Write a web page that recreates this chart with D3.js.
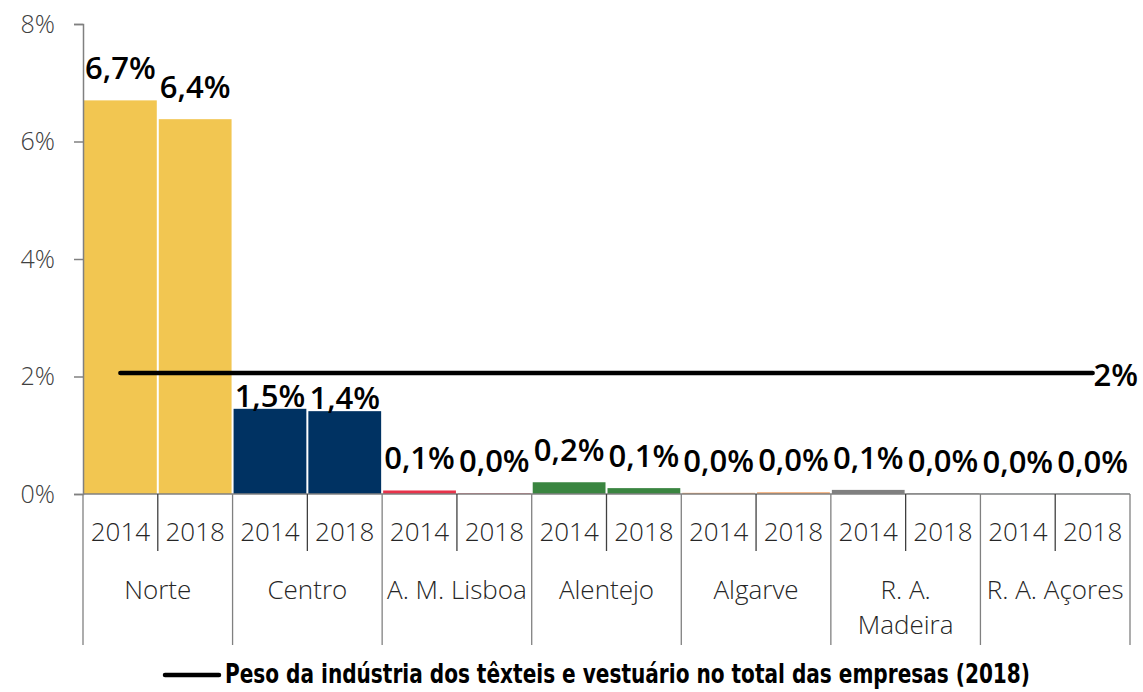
<!DOCTYPE html>
<html>
<head>
<meta charset="utf-8">
<script src="https://cdn.jsdelivr.net/npm/d3@7"></script>
<style>
  body { margin: 0; background: #fff; }
  svg { display: block; font-family: "Open Sans", sans-serif; }
</style>
</head>
<body>
<div id="chart"></div>
<script>
const regions = ['Norte', 'Centro', 'A. M. Lisboa', 'Alentejo', 'Algarve', 'R. A. Madeira', 'R. A. Açores'];
const years = ['2014', '2018'];
const values2014 = [6.7, 1.45, 0.06, 0.2, 0.02, 0.07, 0.005];
const values2018 = [6.38, 1.41, 0.01, 0.1, 0.03, 0.01, 0.005];
const labels2014 = ['6,7%', '1,5%', '0,1%', '0,2%', '0,0%', '0,1%', '0,0%'];
const labels2018 = ['6,4%', '1,4%', '0,0%', '0,1%', '0,0%', '0,0%', '0,0%'];
const colors = ['#F2C651', '#003262', '#E8334A', '#3A8540', '#F2A468', '#808080', '#9DC3E6'];
const refValue = 2.06;
const refLabel = '2%';
const legendText = 'Peso da indústria dos têxteis e vestuário no total das empresas (2018)';
const yTicks = [0, 2, 4, 6, 8];

(() => {
  const width = 1143, height = 692;
  const margin = { left: 83, right: 13, top: 24, bottom: 198 };
  const svg = d3.select('#chart').append('svg')
    .attr('width', width)
    .attr('height', height);

  const bars = [];
  regions.forEach((r, i) => {
    bars.push({ region: r, year: years[0], value: values2014[i], label: labels2014[i], color: colors[i], idx: i });
    bars.push({ region: r, year: years[1], value: values2018[i], label: labels2018[i], color: colors[i], idx: i });
  });

  const x = d3.scaleBand()
    .domain(bars.map((d, i) => i))
    .range([margin.left, width - margin.right])
    .padding(0);
  const xr = d3.scaleBand()
    .domain(regions)
    .range([margin.left, width - margin.right]);
  const y = d3.scaleLinear()
    .domain([0, 8])
    .range([height - margin.bottom, margin.top]);

  // bars
  svg.append('g').selectAll('rect')
    .data(bars)
    .enter()
    .append('rect')
    .attr('x', (d, i) => x(i) + 1)
    .attr('width', x.bandwidth() - 2)
    .attr('y', (d) => y(d.value))
    .attr('height', (d) => y(0) - y(d.value))
    .attr('fill', (d) => d.color);

  // y axis
  const yAxis = svg.append('g')
    .attr('transform', `translate(${margin.left},0)`)
    .call(d3.axisLeft(y).tickValues(yTicks).tickSize(9).tickFormat((d) => d + '%'));
  yAxis.select('.domain').attr('stroke', '#808080').attr('stroke-width', 1.5);
  yAxis.selectAll('.tick line').attr('stroke', '#808080').attr('stroke-width', 1.5);
  yAxis.selectAll('.tick text')
    .attr('x', -28)
    .attr('font-size', 25)
    .attr('font-weight', 300)
    .attr('fill', '#404040')
    .attr('font-family', '"Open Sans", sans-serif');

  // x axis line
  const y0 = y(0);
  svg.append('line')
    .attr('x1', margin.left).attr('x2', width - margin.right)
    .attr('y1', y0).attr('y2', y0)
    .attr('stroke', '#808080').attr('stroke-width', 1.5);

  // year separators
  const yearSep = d3.range(bars.length + 1).map((i) => i < bars.length ? x(i) : x(bars.length - 1) + x.bandwidth());
  svg.append('g').selectAll('line')
    .data(yearSep)
    .enter()
    .append('line')
    .attr('x1', (d) => d).attr('x2', (d) => d)
    .attr('y1', y0)
    .attr('y2', (d, i) => i % 2 === 0 ? 645 : 551)
    .attr('stroke', (d, i) => i % 2 === 0 ? '#808080' : '#404040')
    .attr('stroke-width', 1.3);

  // year labels
  svg.append('g').selectAll('text')
    .data(bars)
    .enter()
    .append('text')
    .attr('x', (d, i) => x(i) + x.bandwidth() / 2)
    .attr('y', 541)
    .attr('text-anchor', 'middle')
    .attr('font-size', 26)
    .attr('font-weight', 300)
    .attr('fill', '#262626')
    .text((d) => d.year);

  // region labels
  const wrapMap = { 'R. A. Madeira': ['R. A.', 'Madeira'] };
  const regionText = svg.append('g').selectAll('text')
    .data(regions)
    .enter()
    .append('text')
    .attr('text-anchor', 'middle')
    .attr('font-size', 26)
    .attr('font-weight', 300)
    .attr('fill', '#262626');
  regionText.each(function(d) {
    const lines = wrapMap[d] || [d];
    d3.select(this).selectAll('tspan')
      .data(lines)
      .enter()
      .append('tspan')
      .attr('x', xr(d) + xr.bandwidth() / 2)
      .attr('y', (l, k) => 599 + k * 35)
      .text((l) => l);
  });

  // value labels (kept below the reference line when it would cross them)
  const labelY = (d) => {
    const top = y(d.value);
    const yLine = y(refValue);
    if (top - 21 - 22 < yLine + 4 && top > yLine) return top - 2;
    return top - 21;
  };
  svg.append('g').selectAll('text')
    .data(bars)
    .enter()
    .append('text')
    .attr('x', (d, i) => x(i) + x.bandwidth() / 2)
    .attr('y', labelY)
    .attr('text-anchor', 'middle')
    .attr('font-size', 31)
    .attr('font-weight', 600)
    .attr('fill', '#000')
    .text((d) => d.label);

  // reference line
  const xFirst = x(0) + x.bandwidth() / 2;
  const xLast = x(bars.length - 1) + x.bandwidth() / 2;
  svg.append('line')
    .attr('x1', xFirst).attr('x2', xLast)
    .attr('y1', y(refValue)).attr('y2', y(refValue))
    .attr('stroke', '#000').attr('stroke-width', 4.5)
    .attr('stroke-linecap', 'round');
  svg.append('text')
    .attr('x', xLast + 1)
    .attr('y', y(refValue) + 13)
    .attr('font-size', 31)
    .attr('font-weight', 600)
    .attr('fill', '#000')
    .text(refLabel);

  // legend
  const legend = svg.append('g').attr('transform', 'translate(165,675)');
  legend.append('line')
    .attr('x1', 0).attr('x2', 54)
    .attr('y1', 0).attr('y2', 0)
    .attr('stroke', '#000').attr('stroke-width', 4.5)
    .attr('stroke-linecap', 'round');
  legend.append('text')
    .attr('x', 60)
    .attr('y', 8)
    .attr('font-family', '"Liberation Sans Narrow", "DejaVu Sans Condensed", sans-serif')
    .attr('font-size', 27)
    .attr('font-weight', 700)
    .attr('fill', '#000')
    .attr('textLength', 805)
    .attr('lengthAdjust', 'spacingAndGlyphs')
    .text(legendText);
})();
</script>
</body>
</html>
